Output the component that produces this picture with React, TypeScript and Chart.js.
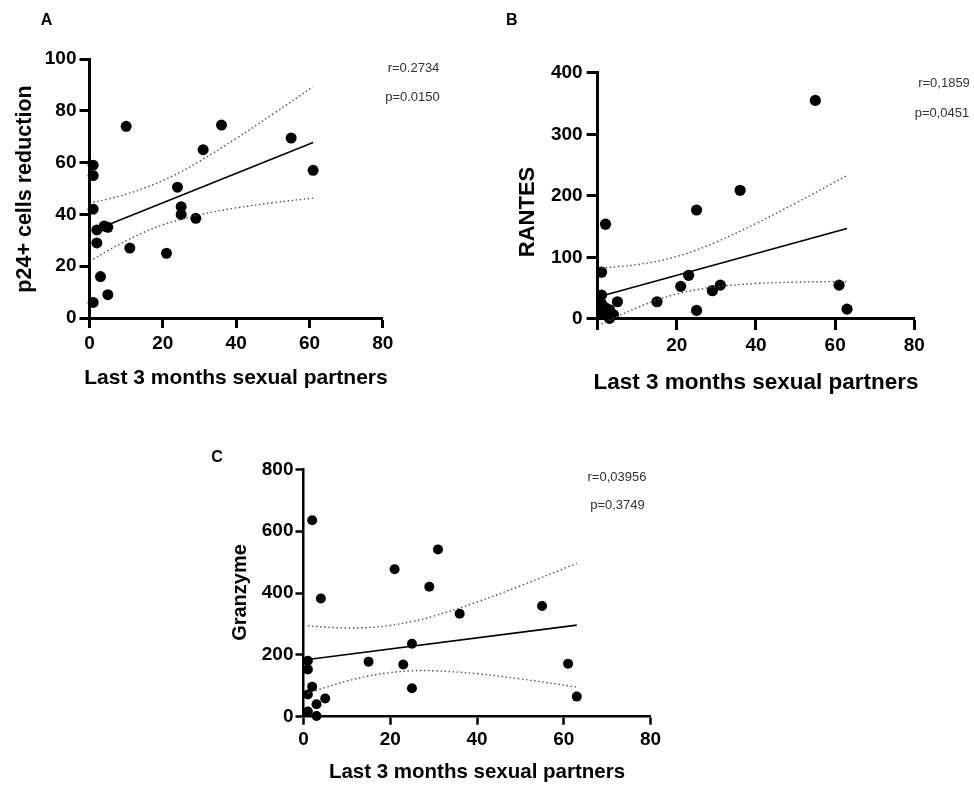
import { useEffect, useRef } from "react";
import { Chart, registerables } from "chart.js";

Chart.register(...registerables);

// ---------- tick values / labels ----------
const xTickValues = [0, 20, 40, 60, 80];
const xTickLabelsA = ["0", "20", "40", "60", "80"];
const xTickLabelsB = ["", "20", "40", "60", "80"];
const xTickLabelsC = ["0", "20", "40", "60", "80"];
const yTicksA = [0, 20, 40, 60, 80, 100];
const yTicksB = [0, 100, 200, 300, 400];
const yTicksC = [0, 200, 400, 600, 800];

// ---------- Panel A: p24+ cells reduction ----------
const partnersA = [1, 1, 1, 2, 4, 5, 2, 3, 5, 1, 10, 11, 21, 24, 25, 25, 29, 31, 36, 55, 61];
const p24Reduction = [59, 55, 42, 34, 35.5, 35, 29, 16, 9, 6, 74, 27, 25, 50.5, 43, 40, 38.5, 65, 74.5, 69.5, 57];
const fitXA = [1, 61];
const fitYA = [33.7, 67.8];
const ciXA = [1, 5, 10, 15, 20, 25, 30, 40, 50, 61];
const ciUpperA = [44.7, 45.9, 47.8, 50.2, 53.1, 56.5, 60.5, 69.3, 78.7, 89.3];
const ciLowerA = [22.7, 26.0, 29.8, 33.2, 36.0, 38.1, 39.9, 42.5, 44.5, 46.3];

// ---------- Panel B: RANTES ----------
const partnersB = [1, 1, 1, 1, 2, 2, 3, 3, 4, 5, 15, 21, 23, 25, 25, 29, 31, 36, 55, 61, 63];
const rantes = [76, 39, 25, 9, 154, 18, 15, 1, 7, 28, 28, 53, 71, 177, 14, 46, 55, 209, 355, 55, 16];
const fitXB = [1, 63];
const fitYB = [37.4, 147];
const ciXB = [1, 5, 10, 15, 20, 25, 30, 40, 50, 63];
const ciUpperB = [83.0, 84.9, 88.3, 93.7, 101.5, 112.0, 124.9, 155.1, 188.1, 233];
const ciLowerB = [-8.2, 4.1, 18.3, 30.7, 40.5, 47.6, 52.5, 57.7, 59.9, 61];

// ---------- Panel C: Granzyme ----------
const partnersC = [1, 1, 2, 1, 5, 3, 1, 3, 2, 4, 15, 21, 23, 25, 25, 29, 31, 36, 55, 61, 63];
const granzyme = [181, 153, 97, 72, 59, 40, 17, 2, 635, 382, 178, 477, 169, 236, 92, 420, 541, 333, 358, 171, 65];
const fitXC = [1, 63];
const fitYC = [185, 296];
const ciXC = [1, 5, 10, 15, 20, 25, 30, 40, 50, 63];
const ciUpperC = [294, 289.8, 287, 288.4, 295.1, 307.7, 325.2, 370.6, 423.1, 496];
const ciLowerC = [76, 94.6, 115.2, 131.8, 142.9, 148.3, 148.6, 139, 122.3, 96];

const FONT = "'Liberation Sans', Arial, Helvetica, sans-serif";

type TextItem = {
  text: string;
  x: number;
  y: number;
  font: string;
  color?: string;
  align?: CanvasTextAlign;
  baseline?: CanvasTextBaseline;
  rotate?: number;
};

function textPlugin(items: TextItem[]) {
  return {
    id: "panelText",
    afterDraw(chart: any) {
      const ctx = chart.ctx as CanvasRenderingContext2D;
      for (const t of items) {
        ctx.save();
        ctx.font = t.font;
        ctx.fillStyle = t.color || "#000";
        ctx.textAlign = t.align || "center";
        ctx.textBaseline = t.baseline || "alphabetic";
        ctx.translate(t.x, t.y);
        if (t.rotate) ctx.rotate(t.rotate);
        ctx.fillText(t.text, 0, 0);
        ctx.restore();
      }
    },
  };
}

const zip = (xs: number[], ys: number[]) => xs.map((x, i) => ({ x, y: ys[i] }));

type PanelSpec = {
  xs: number[];
  ys: number[];
  fitX: number[];
  fitY: number[];
  ciX: number[];
  ciUp: number[];
  ciLo: number[];
  yTicks: number[];
  xLabels: string[];
  padding: { left: number; right: number; top: number; bottom: number };
  pointRadius: number;
  axisWidth: number;
  tickLength: number;
  yTickPad: number;
  texts: TextItem[];
};

function makeConfig(p: PanelSpec): any {
  const dotted = {
    type: "line",
    borderColor: "#555",
    borderWidth: 1.4,
    borderDash: [1.5, 2.6],
    pointRadius: 0,
    tension: 0.4,
    fill: false,
    clip: false,
  };
  return {
    type: "scatter",
    data: {
      datasets: [
        { ...dotted, data: zip(p.ciX, p.ciUp) },
        { ...dotted, data: zip(p.ciX, p.ciLo) },
        {
          type: "line",
          data: zip(p.fitX, p.fitY),
          borderColor: "#000",
          borderWidth: 1.6,
          pointRadius: 0,
          fill: false,
          clip: false,
        },
        {
          type: "scatter",
          data: zip(p.xs, p.ys),
          backgroundColor: "#000",
          borderWidth: 0,
          pointRadius: p.pointRadius,
          clip: false,
        },
      ],
    },
    options: {
      animation: false,
      responsive: false,
      events: [],
      layout: { padding: p.padding },
      plugins: { legend: { display: false }, tooltip: { enabled: false }, title: { display: false } },
      scales: {
        x: {
          type: "linear",
          min: 0,
          max: 80,
          afterBuildTicks: (s: any) => {
            s.ticks = xTickValues.map((v) => ({ value: v }));
          },
          afterFit: (s: any) => {
            s.height = 60;
          },
          ticks: {
            callback: (_v: any, i: number) => p.xLabels[i],
            font: { family: FONT, size: 19, weight: "bold" },
            color: "#000",
            padding: 4,
            maxRotation: 0,
            autoSkip: false,
          },
          grid: {
            display: true,
            drawOnChartArea: false,
            drawTicks: true,
            tickLength: p.tickLength,
            tickWidth: p.axisWidth,
            tickColor: "#000",
          },
          border: { display: true, width: p.axisWidth, color: "#000" },
        },
        y: {
          type: "linear",
          min: p.yTicks[0],
          max: p.yTicks[p.yTicks.length - 1],
          afterBuildTicks: (s: any) => {
            s.ticks = p.yTicks.map((v) => ({ value: v }));
          },
          afterFit: (s: any) => {
            s.width = 89.5;
          },
          ticks: {
            callback: (v: any) => String(v),
            font: { family: FONT, size: 19, weight: "bold" },
            color: "#000",
            padding: p.yTickPad,
            autoSkip: false,
          },
          grid: {
            display: true,
            drawOnChartArea: false,
            drawTicks: true,
            tickLength: p.tickLength,
            tickWidth: p.axisWidth,
            tickColor: "#000",
          },
          border: { display: true, width: p.axisWidth, color: "#000" },
        },
      },
    },
    plugins: [textPlugin(p.texts)],
  };
}

const statFont = `13px ${FONT}`;

const panels: PanelSpec[] = [
  {
    xs: partnersA,
    ys: p24Reduction,
    fitX: fitXA,
    fitY: fitYA,
    ciX: ciXA,
    ciUp: ciUpperA,
    ciLo: ciLowerA,
    yTicks: yTicksA,
    xLabels: xTickLabelsA,
    padding: { left: 0, top: 59, right: 591.2, bottom: 407 },
    pointRadius: 5.5,
    axisWidth: 3,
    tickLength: 10,
    yTickPad: 3,
    texts: [
      { text: "A", x: 46.5, y: 25, font: `bold 16px ${FONT}` },
      { text: "r=0.2734", x: 413.5, y: 72, font: statFont, color: "#333" },
      { text: "p=0.0150", x: 412.5, y: 100.5, font: statFont, color: "#333" },
      { text: "Last 3 months sexual partners", x: 236, y: 383.5, font: `bold 21px ${FONT}` },
      { text: "p24+ cells reduction", x: 30.5, y: 189, font: `bold 21.5px ${FONT}`, rotate: -Math.PI / 2 },
    ],
  },
  {
    xs: partnersB,
    ys: rantes,
    fitX: fitXB,
    fitY: fitYB,
    ciX: ciXB,
    ciUp: ciUpperB,
    ciLo: ciLowerB,
    yTicks: yTicksB,
    xLabels: xTickLabelsB,
    padding: { left: 508.1, top: 72.7, right: 59.7, bottom: 406 },
    pointRadius: 5.6,
    axisWidth: 3,
    tickLength: 11,
    yTickPad: 4,
    texts: [
      { text: "B", x: 511.7, y: 25, font: `bold 16px ${FONT}` },
      { text: "r=0,1859", x: 944, y: 87, font: statFont, color: "#333" },
      { text: "p=0,0451", x: 942, y: 116.5, font: statFont, color: "#333" },
      { text: "Last 3 months sexual partners", x: 756, y: 389, font: `bold 22.5px ${FONT}` },
      { text: "RANTES", x: 534, y: 212, font: `bold 22px ${FONT}`, rotate: -Math.PI / 2 },
    ],
  },
  {
    xs: partnersC,
    ys: granzyme,
    fitX: fitXC,
    fitY: fitYC,
    ciX: ciXC,
    ciUp: ciUpperC,
    ciLo: ciLowerC,
    yTicks: yTicksC,
    xLabels: xTickLabelsC,
    padding: { left: 214, top: 469.3, right: 323.5, bottom: 8.3 },
    pointRadius: 5,
    axisWidth: 2.5,
    tickLength: 8,
    yTickPad: 2,
    texts: [
      { text: "C", x: 217, y: 462, font: `bold 16px ${FONT}` },
      { text: "r=0,03956", x: 617, y: 480.5, font: statFont, color: "#333" },
      { text: "p=0,3749", x: 617.5, y: 509, font: statFont, color: "#333" },
      { text: "Last 3 months sexual partners", x: 477, y: 778, font: `bold 20.5px ${FONT}` },
      { text: "Granzyme", x: 246, y: 592.5, font: `bold 20px ${FONT}`, rotate: -Math.PI / 2 },
    ],
  },
];

function PanelCanvas({ spec }: { spec: PanelSpec }) {
  const ref = useRef<HTMLCanvasElement | null>(null);
  useEffect(() => {
    if (!ref.current) return;
    const chart = new Chart(ref.current, makeConfig(spec));
    return () => chart.destroy();
  }, [spec]);
  return (
    <canvas
      ref={ref}
      width={974}
      height={785}
      style={{ position: "absolute", left: 0, top: 0, width: 974, height: 785 }}
    />
  );
}

export default function App() {
  return (
    <div style={{ position: "absolute", left: 0, top: 0, width: 974, height: 785, background: "#fff" }}>
      {panels.map((p, i) => (
        <PanelCanvas key={i} spec={p} />
      ))}
    </div>
  );
}
